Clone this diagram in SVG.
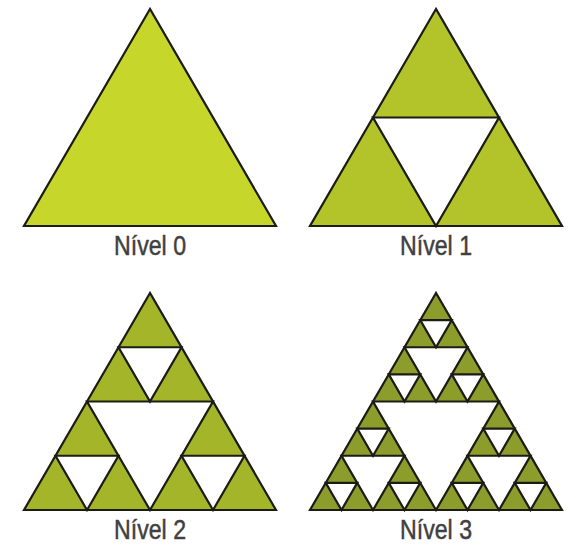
<svg xmlns="http://www.w3.org/2000/svg" width="572" height="545" viewBox="0 0 572 545">
<style>
.tri{stroke:#1c1c16;stroke-width:2.2;stroke-linejoin:miter}
.hole{fill:#ffffff;stroke:#1c1c16;stroke-width:2.2}
.l0{fill:#c7d62b}
.l1{fill:#b3c32a}
.l2{fill:#a5b52a}
.l3{fill:#8d9d2b}
.lbl{font-family:"Liberation Sans Narrow","Liberation Sans",Arial,sans-serif;font-size:28px;fill:#404040;stroke:#404040;stroke-width:0.5;text-anchor:middle}
</style>
<rect width="572" height="545" fill="#ffffff"/>
<g id="nivel0">
<polygon class="tri l0" points="150,9 24,226 276,226"/>
<text class="lbl" x="150" y="255" textLength="72" lengthAdjust="spacingAndGlyphs">Nível 0</text>
</g>
<g id="nivel1">
<polygon class="tri l1" points="436,9 310,226 562,226"/>
<polygon class="hole" points="373,117.5 499,117.5 436,226"/>
<text class="lbl" x="436" y="255" textLength="72" lengthAdjust="spacingAndGlyphs">Nível 1</text>
</g>
<g id="nivel2">
<polygon class="tri l2" points="150,293 24,510 276,510"/>
<polygon class="hole" points="87,401.5 213,401.5 150,510"/>
<polygon class="hole" points="118.5,347.25 181.5,347.25 150,401.5"/>
<polygon class="hole" points="55.5,455.75 118.5,455.75 87,510"/>
<polygon class="hole" points="181.5,455.75 244.5,455.75 213,510"/>
<text class="lbl" x="150" y="539" textLength="72" lengthAdjust="spacingAndGlyphs">Nível 2</text>
</g>
<g id="nivel3">
<polygon class="tri l3" points="436,293 310,510 562,510"/>
<polygon class="hole" points="373,401.5 499,401.5 436,510"/>
<polygon class="hole" points="404.5,347.25 467.5,347.25 436,401.5"/>
<polygon class="hole" points="341.5,455.75 404.5,455.75 373,510"/>
<polygon class="hole" points="467.5,455.75 530.5,455.75 499,510"/>
<polygon class="hole" points="420.25,320.125 451.75,320.125 436,347.25"/>
<polygon class="hole" points="388.75,374.375 420.25,374.375 404.5,401.5"/>
<polygon class="hole" points="451.75,374.375 483.25,374.375 467.5,401.5"/>
<polygon class="hole" points="357.25,428.625 388.75,428.625 373,455.75"/>
<polygon class="hole" points="325.75,482.875 357.25,482.875 341.5,510"/>
<polygon class="hole" points="388.75,482.875 420.25,482.875 404.5,510"/>
<polygon class="hole" points="483.25,428.625 514.75,428.625 499,455.75"/>
<polygon class="hole" points="451.75,482.875 483.25,482.875 467.5,510"/>
<polygon class="hole" points="514.75,482.875 546.25,482.875 530.5,510"/>
<text class="lbl" x="436" y="539" textLength="72" lengthAdjust="spacingAndGlyphs">Nível 3</text>
</g>
</svg>
